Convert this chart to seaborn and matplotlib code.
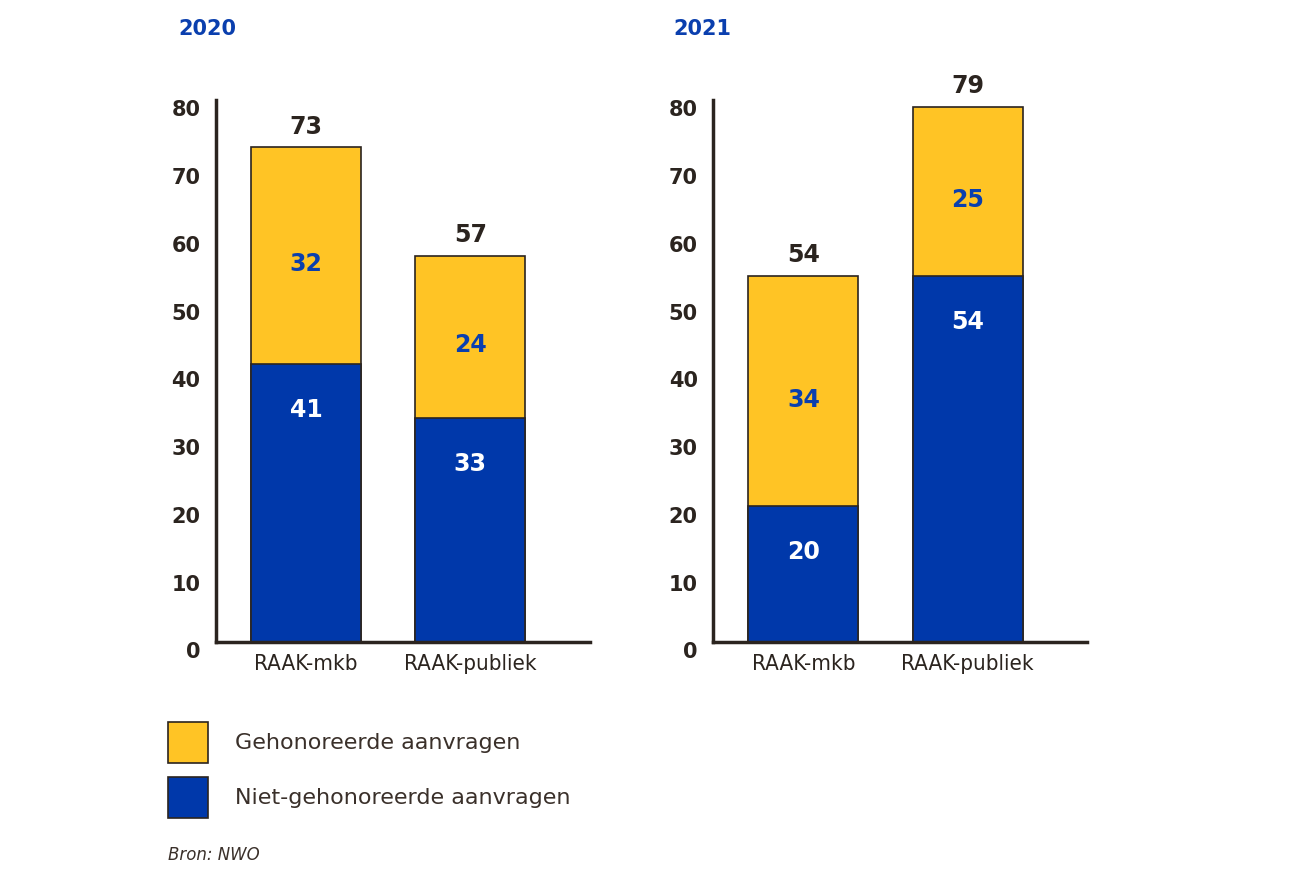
import pandas as pd
import numpy as np
import matplotlib
matplotlib.use('Agg')
import matplotlib.pyplot as plt
import matplotlib.transforms as mtransforms
from matplotlib.patches import Patch
import seaborn as sns

categories = ['RAAK-mkb', 'RAAK-publiek']
years = ['2020', '2021']
gehonoreerd = {'2020': [32, 24], '2021': [34, 25]}
niet_gehonoreerd = {'2020': [41, 33], '2021': [20, 54]}
y_ticks = [0, 10, 20, 30, 40, 50, 60, 70, 80]
legend_labels = ['Gehonoreerde aanvragen', 'Niet-gehonoreerde aanvragen']
source_text = 'Bron: NWO'

YELLOW = '#FFC425'
BLUE = '#0038AA'
DARK = '#2b241f'
TITLE_BLUE = '#0a3fae'

sns.set_style('white')
plt.rcParams['font.family'] = ['DejaVu Sans']

fig = plt.figure(figsize=(13, 8.8), dpi=100)
axes = [fig.add_axes([0.166, 0.2705, 0.288, 0.6159]),
        fig.add_axes([0.5485, 0.2705, 0.288, 0.6159])]

for ax, year in zip(axes, years):
    df = pd.DataFrame({'categorie': categories,
                       'gehonoreerd': gehonoreerd[year],
                       'niet': niet_gehonoreerd[year]})
    df['totaal'] = df['gehonoreerd'] + df['niet']

    # totaal in geel, daarover het blauwe deel
    sns.barplot(data=df, x='categorie', y='totaal', color=YELLOW, saturation=1,
                width=0.67, edgecolor=DARK, linewidth=1.2, ax=ax)
    sns.barplot(data=df, x='categorie', y='niet', color=BLUE, saturation=1,
                width=0.67, edgecolor=DARK, linewidth=1.2, ax=ax)

    for i, row in df.iterrows():
        ax.annotate(str(row['totaal']), (i, row['totaal']), xytext=(0, 15),
                    textcoords='offset points', ha='center', va='center',
                    fontsize=17, fontweight='bold', color=DARK)
        mid = row['niet'] + row['gehonoreerd'] / 2
        ax.annotate(str(row['gehonoreerd']), (i, mid), xytext=(0, -6),
                    textcoords='offset points', ha='center', va='center',
                    fontsize=17, fontweight='bold', color=TITLE_BLUE)
        ax.annotate(str(row['niet']), (i, row['niet']), xytext=(0, -33),
                    textcoords='offset points', ha='center', va='center',
                    fontsize=17, fontweight='bold', color='white')

    ax.set_xlim(-0.55, 1.73)
    ax.set_ylim(0, 80)
    ax.set_yticks(y_ticks)
    ax.set_xlabel('')
    ax.set_ylabel('')
    sns.despine(ax=ax)
    for side in ['left', 'bottom']:
        ax.spines[side].set_linewidth(2.5)
        ax.spines[side].set_color(DARK)
    ax.tick_params(axis='y', length=0, pad=11, labelsize=15, labelcolor=DARK)
    ax.tick_params(axis='x', length=0, pad=9, labelcolor=DARK)
    for lab in ax.get_yticklabels():
        lab.set_fontweight('bold')
        lab.set_transform(lab.get_transform() +
                          mtransforms.ScaledTranslation(0, -6 / 72, fig.dpi_scale_trans))
    for lab in ax.get_xticklabels():
        lab.set_fontstretch('condensed')
        lab.set_fontsize(16)
        lab.set_fontweight('medium')

fig.text(178 / 1300, 1 - 29 / 880, years[0], fontsize=15, fontweight='bold',
         color=TITLE_BLUE, ha='left', va='center')
fig.text(673 / 1300, 1 - 29 / 880, years[1], fontsize=15, fontweight='bold',
         color=TITLE_BLUE, ha='left', va='center')

handles = [Patch(facecolor=YELLOW, edgecolor=DARK, linewidth=1.2),
           Patch(facecolor=BLUE, edgecolor=DARK, linewidth=1.2)]
fig.legend(handles, legend_labels, loc='upper left',
           bbox_to_anchor=(168 / 1300, 1 - 722 / 880), frameon=False,
           fontsize=16, handlelength=1.8, handleheight=2.46,
           handletextpad=1.2, labelspacing=0.62, borderpad=0, borderaxespad=0,
           labelcolor='#3a302a')

fig.text(168 / 1300, 1 - 855 / 880, source_text, fontsize=12, style='italic',
         color='#3a302a', ha='left', va='center')

fig.savefig('out.png', dpi=100, facecolor='white')
